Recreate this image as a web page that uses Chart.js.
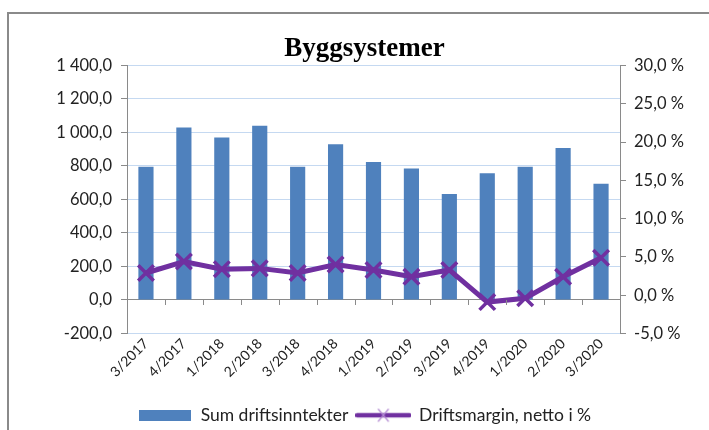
<!DOCTYPE html>
<html>
<head>
    <meta charset="utf-8">
    <title>Byggsystemer</title>
    <script src="https://cdn.jsdelivr.net/npm/chart.js"></script>
    <style>
        body { margin: 0; background: #fff; }
        #frame { position: absolute; left: 7px; top: 12px; width: 720px; height: 430px;
                 border-top: 2px solid #8a8a8a; border-left: 2px solid #8a8a8a; }
        #chart { position: absolute; left: 0; top: 0; }
    </style>
</head>
<body>
    <div id="frame"></div>
    <canvas id="chart" width="709" height="430"></canvas>

    <script>
        // kvartaler
        var labels = ['3/2017', '4/2017', '1/2018', '2/2018', '3/2018', '4/2018', '1/2019',
                      '2/2019', '3/2019', '4/2019', '1/2020', '2/2020', '3/2020'];
        // Sum driftsinntekter
        var driftsinntekter = [795, 1030, 970, 1040, 795, 930, 823, 785, 633, 756, 795, 907, 694];
        // Driftsmargin, netto i %
        var driftsmargin = [2.9, 4.4, 3.4, 3.5, 2.9, 4.0, 3.3, 2.4, 3.3, -0.9, -0.4, 2.4, 4.9];

        var blue = '#4f81bd';
        var purple = '#7030a0';
        var textColor = '#222';
        var axisGray = '#8a8a8a';
        var gridBlue = '#c5d9f1';

        function fmtNum(v) {
            var s = Math.abs(v).toFixed(1).replace('.', ',');
            var parts = s.split(',');
            parts[0] = parts[0].replace(/\B(?=(\d{3})+(?!\d))/g, ' ');
            return (v < 0 ? '-' : '') + parts.join(',');
        }

        // legend symbols
        var barIcon = document.createElement('canvas');
        barIcon.width = 52; barIcon.height = 11;
        var bc = barIcon.getContext('2d');
        bc.fillStyle = blue;
        bc.fillRect(0, 0, 52, 11);

        var lineIcon = document.createElement('canvas');
        lineIcon.width = 56; lineIcon.height = 16;
        var lc = lineIcon.getContext('2d');
        lc.strokeStyle = purple;
        lc.lineWidth = 4.5;
        lc.lineCap = 'round';
        lc.beginPath(); lc.moveTo(2, 8); lc.lineTo(54, 8); lc.stroke();
        lc.lineWidth = 1.2;
        lc.strokeStyle = '#b48cd2';
        lc.beginPath(); lc.moveTo(23, 2); lc.lineTo(33, 14); lc.moveTo(33, 2); lc.lineTo(23, 14); lc.stroke();

        // små streker under nullinjen mellom kategoriene
        var zeroTicks = {
            id: 'zeroTicks',
            afterDraw: function (chart) {
                var x = chart.scales.x, y = chart.scales.y, ctx = chart.ctx;
                var y0 = y.getPixelForValue(0);
                var half = (x.getPixelForValue(1) - x.getPixelForValue(0)) / 2;
                ctx.save();
                ctx.strokeStyle = axisGray;
                ctx.lineWidth = 1;
                ctx.beginPath();
                for (var i = 1; i < labels.length; i++) {
                    var px = Math.round(x.getPixelForValue(i) - half) + 0.5;
                    ctx.moveTo(px, y0);
                    ctx.lineTo(px, y0 + 5);
                }
                ctx.stroke();
                ctx.restore();
            }
        };

        var ctx = document.getElementById('chart').getContext('2d');
        var chart = new Chart(ctx, {
            type: 'bar',
            data: {
                labels: labels,
                datasets: [{
                    type: 'bar',
                    label: 'Sum driftsinntekter',
                    data: driftsinntekter,
                    backgroundColor: blue,
                    barPercentage: 0.4,
                    categoryPercentage: 1,
                    yAxisID: 'y',
                    order: 2
                }, {
                    type: 'line',
                    label: 'Driftsmargin, netto i %',
                    data: driftsmargin,
                    borderColor: purple,
                    backgroundColor: purple,
                    borderWidth: 5,
                    pointStyle: 'crossRot',
                    pointRadius: 11,
                    pointBorderWidth: 3.5,
                    pointBorderColor: purple,
                    tension: 0,
                    yAxisID: 'y1',
                    order: 1
                }]
            },
            options: {
                responsive: false,
                animation: false,
                layout: { padding: { left: 20, right: 0, top: 31, bottom: -4 } },
                plugins: {
                    tooltip: { enabled: false },
                    title: {
                        display: true,
                        text: 'Byggsystemer',
                        color: '#000',
                        font: { family: 'Liberation Serif', size: 27, weight: 'bold' },
                        padding: { top: 2, bottom: 0 }
                    },
                    legend: {
                        position: 'bottom',
                        labels: {
                            usePointStyle: true,
                            pointStyleWidth: 54,
                            padding: 8,
                            color: textColor,
                            font: { family: 'Lato', size: 17.5 },
                            generateLabels: function (chart) {
                                var items = Chart.defaults.plugins.legend.labels.generateLabels(chart);
                                items.sort(function (a, b) { return a.datasetIndex - b.datasetIndex; });
                                items.forEach(function (it) {
                                    it.pointStyle = it.datasetIndex === 0 ? barIcon : lineIcon;
                                });
                                return items;
                            }
                        }
                    }
                },
                scales: {
                    x: {
                        grid: { display: false, drawTicks: false },
                        border: { display: false },
                        ticks: {
                            minRotation: 45,
                            maxRotation: 45,
                            padding: 2,
                            color: textColor,
                            font: { family: 'Lato', size: 14 }
                        },
                        afterFit: function (s) { s.height = 65; }
                    },
                    y: {
                        position: 'left',
                        min: -200,
                        max: 1400,
                        ticks: {
                            stepSize: 200,
                            padding: 9,
                            color: textColor,
                            font: { family: 'Lato', size: 16.5 },
                            callback: function (v) { return fmtNum(v); }
                        },
                        grid: {
                            color: function (c) { return c.tick && c.tick.value === 0 ? axisGray : gridBlue; },
                            tickColor: axisGray,
                            tickLength: 6
                        },
                        border: { color: axisGray },
                        afterFit: function (s) { s.width = 107; }
                    },
                    y1: {
                        position: 'right',
                        min: -5,
                        max: 30,
                        ticks: {
                            stepSize: 5,
                            padding: 8,
                            color: textColor,
                            font: { family: 'Lato', size: 16.5 },
                            callback: function (v) { return v.toFixed(1).replace('.', ',') + ' %'; }
                        },
                        grid: { drawOnChartArea: false, tickColor: axisGray, tickLength: 6 },
                        border: { color: axisGray },
                        afterFit: function (s) { s.width = 89; }
                    }
                }
            },
            plugins: [zeroTicks]
        });
    </script>
</body>
</html>
